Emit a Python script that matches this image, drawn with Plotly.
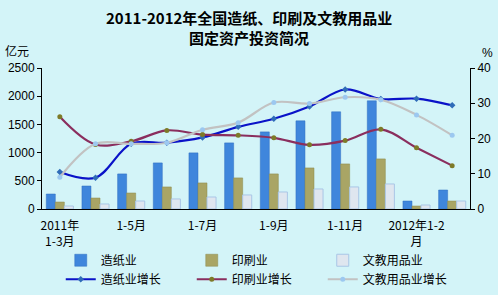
import plotly.graph_objects as go

categories = ["2011年1-3月", "1-4月", "1-5月", "1-6月", "1-7月", "1-8月", "1-9月",
              "1-10月", "1-11月", "1-12月", "2012年1-2月", "1-3月"]
tick_idx = [0, 2, 4, 6, 8, 10]
tick_text = ["2011年<br>1-3月", "1-5月", "1-7月", "1-9月", "1-11月", "2012年1-2<br>月"]

paper = [266, 408, 622, 817, 995, 1172, 1367, 1563, 1723, 1918, 142, 337]
printing = [124, 195, 284, 391, 462, 551, 622, 728, 799, 888, 53, 142]
stationery = [53, 89, 142, 178, 213, 249, 302, 355, 391, 444, 71, 142]

paper_g = [10.5, 8.9, 18.5, 18.8, 20.3, 23.3, 25.6, 29.1, 33.9, 31.2, 31.3, 29.4]
printing_g = [26.2, 18.3, 19.2, 22.3, 21.1, 20.9, 20.2, 18.2, 19.4, 22.6, 17.4, 12.3]
stationery_g = [9.0, 18.5, 18.5, 18.8, 22.5, 24.5, 30.2, 29.9, 31.7, 31.0, 26.7, 20.9]

font_cn = "Noto Sans CJK SC, Liberation Sans, sans-serif"
font_num = "Liberation Sans, Arial, sans-serif"

W, H = 498, 295
L, R, T, B = 42, 28, 68, 86
PW, PH = W - L - R, H - T - B


def px(x):
    return (x - L) / PW


def py(y):
    return (H - B - y) / PH


fig = go.Figure()
fig.add_trace(go.Bar(x=categories, y=paper, name="造纸业",
                     marker=dict(color="#3f86dc", line=dict(color="#2f6fc0", width=0.5))))
fig.add_trace(go.Bar(x=categories, y=printing, name="印刷业",
                     marker=dict(color="#a9a565", line=dict(color="#8d8a4c", width=0.5))))
fig.add_trace(go.Bar(x=categories, y=stationery, name="文教用品业",
                     marker=dict(color="#dfe6ef", line=dict(color="#a9c6e6", width=1))))

fig.add_trace(go.Scatter(x=categories, y=paper_g, name="造纸业增长", yaxis="y2",
                         mode="lines+markers", line=dict(color="#0a12c8", width=2.2, shape="spline"),
                         marker=dict(color="#2f6cb8", size=5, symbol="diamond")))
fig.add_trace(go.Scatter(x=categories, y=printing_g, name="印刷业增长", yaxis="y2",
                         mode="lines+markers", line=dict(color="#8a2e5e", width=2.2, shape="spline"),
                         marker=dict(color="#7d7a28", size=5)))
fig.add_trace(go.Scatter(x=categories, y=stationery_g, name="文教用品业增长", yaxis="y2",
                         mode="lines+markers", line=dict(color="#c2c2c2", width=2.2, shape="spline"),
                         marker=dict(color="#9cc8f0", size=5)))

fig.update_layout(
    width=W, height=H,
    margin=dict(l=L, r=R, t=T, b=B, autoexpand=False),
    paper_bgcolor="#d3f4f8",
    plot_bgcolor="rgba(0,0,0,0)",
    barmode="group", bargap=0.24, bargroupgap=0,
    showlegend=True,
    xaxis=dict(tickmode="array", tickvals=[categories[i] for i in tick_idx], ticktext=tick_text,
               showline=True, linecolor="#000", linewidth=1, ticks="", showgrid=False,
               tickfont=dict(family=font_cn, size=12, color="#000"), tickangle=0,
               ticklabelstandoff=6,
               range=[-0.5, 11.5], automargin=False),
    yaxis=dict(range=[0, 2500], dtick=500, showline=True, linecolor="#000", linewidth=1,
               ticks="outside", ticklen=4, tickcolor="#000", showgrid=False, zeroline=False,
               tickfont=dict(family=font_num, size=12, color="#000"), automargin=False),
    yaxis2=dict(range=[0, 40], dtick=10, overlaying="y", side="right", showline=True,
                linecolor="#000", linewidth=1, ticks="outside", ticklen=4, tickcolor="#000",
                showgrid=False, zeroline=False, automargin=False,
                tickfont=dict(family=font_num, size=12, color="#000")),
    legend=dict(orientation="h", xref="container", x=0.122, xanchor="left",
                yref="container", y=0.167, yanchor="top",
                entrywidth=86, entrywidthmode="pixels", traceorder="normal",
                bgcolor="rgba(0,0,0,0)", font=dict(family=font_cn, size=12, color="#000"),
                itemwidth=30, tracegroupgap=0),
    annotations=[
        dict(text="<b>2011-2012年全国造纸、印刷及文教用品业</b>", xref="paper", yref="paper",
             x=px(249), y=py(17), xanchor="center", yanchor="middle", showarrow=False,
             font=dict(family=font_cn, size=15, color="#000")),
        dict(text="<b>固定资产投资简况</b>", xref="paper", yref="paper",
             x=px(249), y=py(38), xanchor="center", yanchor="middle", showarrow=False,
             font=dict(family=font_cn, size=15, color="#000")),
        dict(text="亿元", xref="paper", yref="paper", x=px(3), y=py(51),
             xanchor="left", yanchor="middle", showarrow=False,
             font=dict(family=font_cn, size=12, color="#000")),
        dict(text="%", xref="paper", yref="paper", x=px(480), y=py(53),
             xanchor="left", yanchor="middle", showarrow=False,
             font=dict(family=font_num, size=12, color="#000")),
    ],
)

fig.write_html("out.html")
